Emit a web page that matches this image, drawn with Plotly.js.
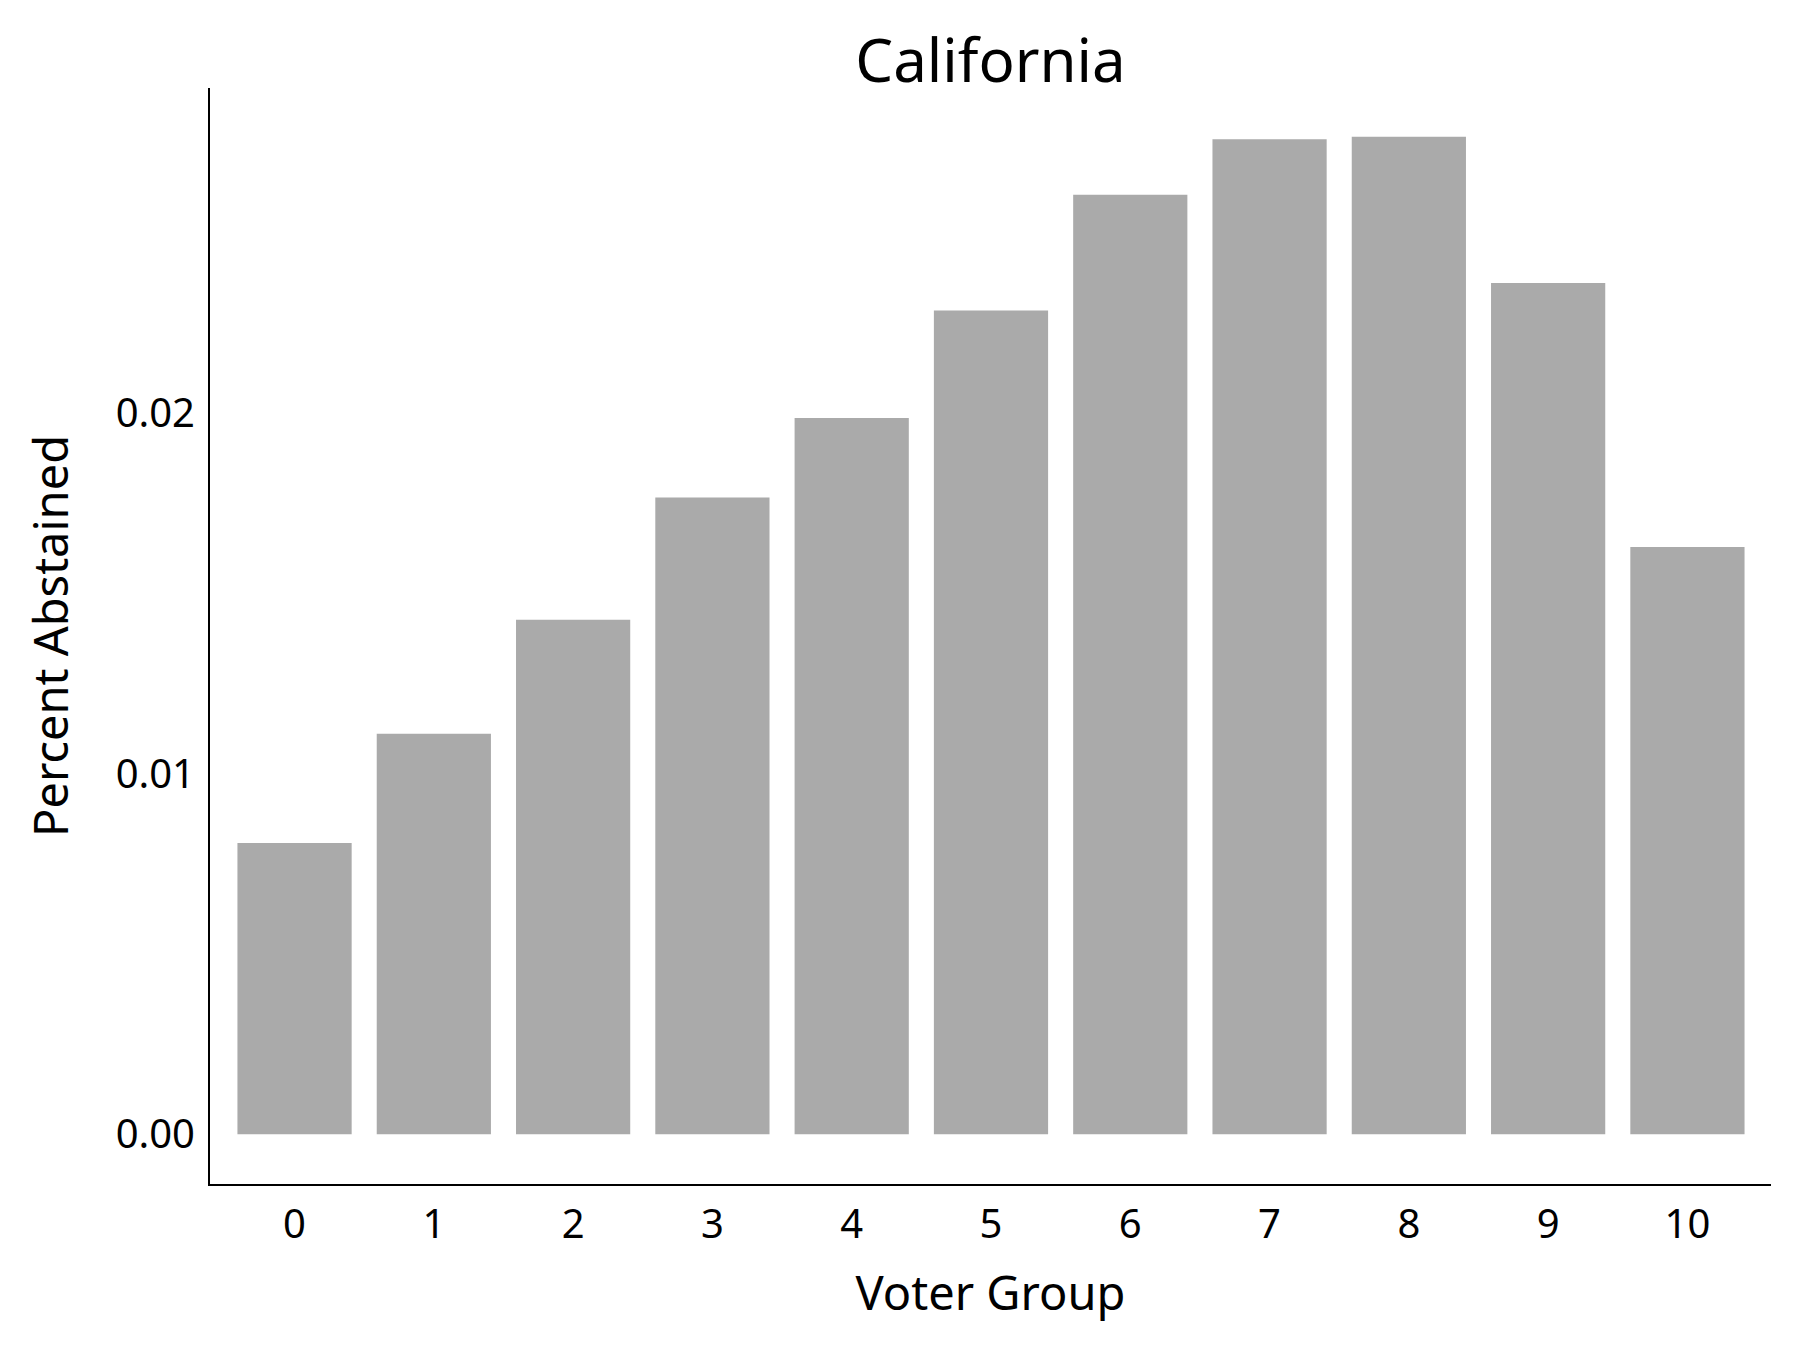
<!DOCTYPE html>
<html>
<head>
<meta charset="utf-8">
<script src="https://cdn.plot.ly/plotly-3.0.1.min.js"></script>
<style>html,body{margin:0;padding:0;background:#fff;}#chart{width:1799px;height:1349px;}</style>
</head>
<body>
<div id="chart"></div>
<script>
const groups = [0, 1, 2, 3, 4, 5, 6, 7, 8, 9, 10];
const abstained = [0.00808, 0.01111, 0.01427, 0.01766, 0.01987, 0.02285, 0.02606, 0.02760, 0.02767, 0.02361, 0.01629];
const yTicks = [0, 0.01, 0.02];
const yTickLabels = ["0.00", "0.01", "0.02"];

const FONT = "Noto Sans, Open Sans, sans-serif";

Plotly.newPlot("chart", [{
  type: "bar",
  x: groups,
  y: abstained,
  marker: {color: "#aaaaaa", line: {width: 0}},
  hoverinfo: "x+y"
}], {
  width: 1799,
  height: 1349,
  paper_bgcolor: "#ffffff",
  plot_bgcolor: "#ffffff",
  margin: {l: 210, r: 28, t: 88, b: 165, pad: 0},
  bargap: 0.18,
  showlegend: false,
  title: {text: "California", font: {family: FONT, size: 60, color: "#000"}, x: 0.5, xref: "paper", xanchor: "center", y: 1 - 61/1349, yanchor: "middle", yref: "container"},
  xaxis: {
    range: [-0.607, 10.6],
    tickvals: groups,
    ticktext: groups.map(String),
    showgrid: false, zeroline: false,
    showline: true, linecolor: "#000", linewidth: 2,
    ticks: "", ticklabelstandoff: 4,
    tickfont: {family: FONT, size: 40, color: "#000"},
    title: {text: "Voter Group", font: {family: FONT, size: 47, color: "#000"}, standoff: 28}
  },
  yaxis: {
    range: [-0.001379, 0.02902],
    tickvals: yTicks,
    ticktext: yTickLabels,
    showgrid: false, zeroline: false,
    showline: true, linecolor: "#000", linewidth: 2,
    ticks: "", ticklabelstandoff: 5,
    tickfont: {family: FONT, size: 40, color: "#000"},
    title: {text: "Percent Abstained", font: {family: FONT, size: 47, color: "#000"}, standoff: 32}
  }
}, {displayModeBar: false, staticPlot: true});
</script>
</body>
</html>
